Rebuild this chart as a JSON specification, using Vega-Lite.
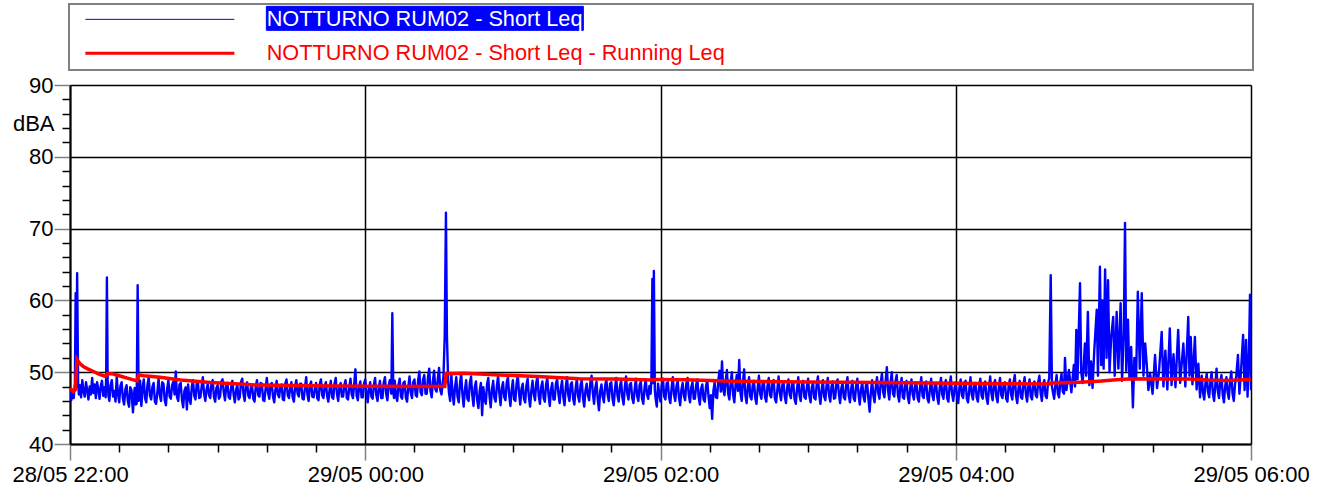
{
  "$schema": "https://vega.github.io/schema/vega-lite/v6.json",
  "width": 1181,
  "height": 359,
  "autosize": {"type": "none"},
  "padding": {"left": 70, "top": 85, "right": 73, "bottom": 46},
  "background": "white",
  "config": {
    "font": "Liberation Sans",
    "view": {"stroke": null}
  },
  "datasets": {
    "short": [
      {"t":0,"v":47.8},{"t":0.5,"v":46.1},{"t":1,"v":47.0},{"t":1.5,"v":46.4},{"t":2,"v":48.5},{"t":2.3,"v":61.0},{"t":2.6,"v":48.0},{"t":2.9,"v":63.8},{"t":3.3,"v":48.5},{"t":3.6,"v":46.9},{"t":4,"v":48.2},{"t":4.5,"v":46.5},{"t":5,"v":48.9},{"t":5.5,"v":47.3},{"t":6,"v":46.6},{"t":6.5,"v":48.6},{"t":7,"v":47.5},{"t":7.5,"v":46.2},{"t":8,"v":48.0},{"t":8.5,"v":46.9},{"t":9,"v":49.2},{"t":9.5,"v":47.1},{"t":10,"v":48.3},{"t":10.5,"v":46.4},{"t":11,"v":48.6},{"t":11.5,"v":47.6},{"t":12,"v":46.3},{"t":12.5,"v":48.1},{"t":13,"v":48.8},{"t":13.5,"v":46.7},{"t":14,"v":47.9},{"t":14.5,"v":46.5},{"t":14.7,"v":49.5},{"t":15,"v":63.2},{"t":15.3,"v":49.0},{"t":15.6,"v":46.8},
      {"t":16,"v":46.0},{"t":16.5,"v":48.2},{"t":17,"v":48.9},{"t":17.5,"v":46.6},{"t":18,"v":47.4},{"t":18.5,"v":45.9},{"t":19,"v":49.4},{"t":19.5,"v":47.0},{"t":20,"v":45.8},{"t":20.5,"v":48.1},{"t":21,"v":48.6},{"t":21.5,"v":46.3},{"t":22,"v":45.5},{"t":22.5,"v":47.6},{"t":23,"v":48.2},{"t":23.5,"v":46.0},{"t":24,"v":45.2},{"t":24.5,"v":47.9},{"t":25,"v":47.5},{"t":25.3,"v":45.8},{"t":25.6,"v":44.4},{"t":26,"v":46.9},{"t":26.3,"v":47.8},{"t":26.7,"v":45.5},{"t":27.1,"v":45.6},{"t":27.5,"v":62.1},{"t":27.9,"v":46.0},
      {"t":28.2,"v":47.4},{"t":28.5,"v":48.8},{"t":29,"v":45.3},{"t":29.5,"v":47.8},{"t":30,"v":49.0},{"t":30.5,"v":46.4},{"t":31,"v":45.8},{"t":31.5,"v":48.3},{"t":32,"v":49.3},{"t":32.5,"v":46.7},{"t":33,"v":46.2},{"t":33.5,"v":48.0},{"t":34,"v":48.5},{"t":34.5,"v":45.9},{"t":35,"v":45.6},{"t":35.5,"v":47.2},{"t":36,"v":49.1},{"t":36.5,"v":46.8},{"t":37,"v":46.0},{"t":37.5,"v":48.6},{"t":38,"v":48.4},{"t":38.5,"v":46.1},{"t":39,"v":45.4},{"t":39.5,"v":47.7},{"t":40,"v":48.9},{"t":40.5,"v":46.6},{"t":41,"v":46.3},{"t":41.5,"v":48.2},{"t":42,"v":48.7},{"t":42.5,"v":46.9},{"t":43,"v":50.1},{"t":43.5,"v":46.5},{"t":44,"v":46.0},{"t":44.5,"v":48.3},{"t":45,"v":48.5},{"t":45.5,"v":46.2},{"t":46,"v":45.1},{"t":46.5,"v":47.4},{"t":47,"v":47.9},{"t":47.5,"v":44.8},{"t":48,"v":48.3},{"t":48.5,"v":46.3},{"t":49,"v":45.6},{"t":49.5,"v":48.0},{"t":50,"v":48.9},
      {"t":50.5,"v":46.7},{"t":51,"v":46.2},{"t":51.5,"v":48.4},{"t":52,"v":48.6},{"t":52.5,"v":46.4},{"t":53,"v":46.5},{"t":53.5,"v":48.0},{"t":54,"v":49.3},{"t":54.5,"v":47.0},{"t":55,"v":46.0},{"t":55.5,"v":47.6},{"t":56,"v":48.4},{"t":56.5,"v":46.8},{"t":57,"v":46.4},{"t":57.5,"v":48.5},{"t":58,"v":48.9},{"t":58.5,"v":46.6},{"t":59,"v":45.9},{"t":59.5,"v":47.8},{"t":60,"v":48.2},{"t":60.5,"v":46.3},{"t":61,"v":46.6},{"t":61.5,"v":48.7},{"t":62,"v":49.0},{"t":62.5,"v":47.2},{"t":63,"v":46.1},{"t":63.5,"v":48.1},{"t":64,"v":48.5},{"t":64.5,"v":46.5},{"t":65,"v":46.3},{"t":65.5,"v":47.9},{"t":66,"v":48.8},{"t":66.5,"v":46.9},{"t":67,"v":45.8},{"t":67.5,"v":47.5},{"t":68,"v":48.3},{"t":68.5,"v":46.2},{"t":69,"v":46.5},{"t":69.5,"v":48.6},{"t":70,"v":49.1},{"t":70.5,"v":47.0},{"t":71,"v":46.0},{"t":71.5,"v":48.2},{"t":72,"v":48.6},{"t":72.5,"v":46.7},{"t":73,"v":46.4},{"t":73.5,"v":47.9},{"t":74,"v":48.2},{"t":74.5,"v":46.3},{"t":75,"v":45.9},
      {"t":75.5,"v":48.0},{"t":76,"v":48.9},{"t":76.5,"v":46.8},{"t":77,"v":46.6},{"t":77.5,"v":48.5},{"t":78,"v":48.4},{"t":78.5,"v":46.1},{"t":79,"v":46.0},{"t":79.5,"v":47.7},{"t":80,"v":49.2},{"t":80.5,"v":47.1},{"t":81,"v":46.3},{"t":81.5,"v":48.3},{"t":82,"v":48.5},{"t":82.5,"v":46.6},{"t":83,"v":45.8},{"t":83.5,"v":47.6},{"t":84,"v":48.8},{"t":84.5,"v":46.9},{"t":85,"v":46.5},{"t":85.5,"v":48.1},{"t":86,"v":48.3},{"t":86.5,"v":46.2},{"t":87,"v":46.1},{"t":87.5,"v":48.4},{"t":88,"v":49.0},{"t":88.5,"v":46.8},{"t":89,"v":46.4},{"t":89.5,"v":47.8},{"t":90,"v":48.6},{"t":90.5,"v":46.5},{"t":91,"v":45.9},{"t":91.5,"v":48.0},{"t":92,"v":48.9},{"t":92.5,"v":47.0},{"t":93,"v":46.6},{"t":93.5,"v":48.4},{"t":94,"v":48.4},{"t":94.5,"v":46.3},{"t":95,"v":46.2},{"t":95.5,"v":47.9},{"t":96,"v":49.3},{"t":96.5,"v":46.9},{"t":97,"v":46.0},{"t":97.5,"v":48.2},{"t":98,"v":48.7},{"t":98.5,"v":46.6},{"t":99,"v":46.5},{"t":99.5,"v":47.7},{"t":100,"v":48.5},
      {"t":100.5,"v":46.4},{"t":101,"v":46.1},{"t":101.5,"v":48.3},{"t":102,"v":49.0},{"t":102.5,"v":46.8},{"t":103,"v":46.4},{"t":103.5,"v":48.0},{"t":104,"v":48.6},{"t":104.5,"v":46.7},{"t":105,"v":45.9},{"t":105.5,"v":47.6},{"t":106,"v":48.8},{"t":106.5,"v":46.5},{"t":107,"v":46.3},{"t":107.5,"v":48.4},{"t":108,"v":49.2},{"t":108.5,"v":47.0},{"t":109,"v":46.0},{"t":109.5,"v":47.9},{"t":110,"v":48.5},{"t":110.5,"v":46.6},{"t":111,"v":46.6},{"t":111.5,"v":48.2},{"t":112,"v":48.9},{"t":112.5,"v":46.4},{"t":113,"v":46.2},{"t":113.5,"v":47.8},{"t":114,"v":49.1},{"t":114.5,"v":46.9},{"t":115,"v":46.4},{"t":115.5,"v":48.3},{"t":116,"v":50.4},{"t":116.5,"v":46.7},{"t":117,"v":46.1},{"t":117.5,"v":48.0},{"t":118,"v":48.7},{"t":118.5,"v":46.5},{"t":119,"v":46.5},{"t":119.5,"v":48.4},{"t":120,"v":49.0},{"t":120.5,"v":47.1},{"t":121,"v":45.8},{"t":121.5,"v":47.6},{"t":122,"v":48.6},{"t":122.5,"v":46.6},{"t":123,"v":46.3},{"t":123.5,"v":48.2},{"t":124,"v":49.2},{"t":124.5,"v":46.8},{"t":125,"v":46.0},{"t":125.5,"v":47.9},{"t":126,"v":48.8},{"t":126.5,"v":46.4},{"t":127,"v":46.4},{"t":127.5,"v":48.5},{"t":128,"v":49.3},{"t":128.5,"v":47.0},{"t":129,"v":46.1},{"t":129.5,"v":48.1},{"t":130,"v":48.9},{"t":130.6,"v":47.0},{"t":131,"v":58.2},{"t":131.4,"v":47.2},{"t":131.7,"v":46.4},
      {"t":132,"v":48.8},{"t":132.5,"v":46.7},{"t":133,"v":46.0},{"t":133.5,"v":48.2},{"t":134,"v":49.1},{"t":134.5,"v":46.6},{"t":135,"v":46.3},{"t":135.5,"v":48.5},{"t":136,"v":48.7},{"t":136.5,"v":46.5},{"t":137,"v":45.9},{"t":137.5,"v":48.0},{"t":138,"v":49.4},{"t":138.5,"v":47.1},{"t":139,"v":46.4},{"t":139.5,"v":48.6},{"t":140,"v":49.0},{"t":140.5,"v":46.8},{"t":141,"v":46.6},{"t":141.5,"v":48.9},{"t":142,"v":50.1},{"t":142.5,"v":47.2},{"t":143,"v":46.8},{"t":143.5,"v":49.0},{"t":144,"v":49.6},{"t":144.5,"v":47.0},{"t":145,"v":47.0},{"t":145.5,"v":49.3},{"t":146,"v":50.5},{"t":146.5,"v":47.4},{"t":147,"v":46.5},{"t":147.5,"v":48.8},{"t":148,"v":50.2},{"t":148.5,"v":47.6},{"t":149,"v":47.3},{"t":149.5,"v":49.1},{"t":150,"v":50.6},{"t":150.5,"v":47.5},{"t":151,"v":46.9},{"t":151.5,"v":48.6},{"t":151.8,"v":49.5},{"t":152.3,"v":55.0},{"t":152.8,"v":72.2},{"t":153.2,"v":55.0},{"t":153.7,"v":48.8},
      {"t":154,"v":47.2},{"t":154.5,"v":46.0},{"t":155,"v":49.6},{"t":155.5,"v":47.1},{"t":156,"v":45.5},{"t":156.5,"v":48.0},{"t":157,"v":49.3},{"t":157.5,"v":46.6},{"t":158,"v":45.8},{"t":158.5,"v":48.4},{"t":159,"v":49.8},{"t":159.5,"v":46.9},{"t":160,"v":45.2},{"t":160.5,"v":47.5},{"t":161,"v":48.9},{"t":161.5,"v":46.3},{"t":162,"v":46.0},{"t":162.5,"v":48.5},{"t":163,"v":49.4},{"t":163.5,"v":46.8},{"t":164,"v":45.3},{"t":164.5,"v":47.9},{"t":165,"v":48.7},{"t":165.5,"v":46.1},{"t":166,"v":45.0},{"t":166.5,"v":47.4},{"t":167,"v":48.5},{"t":167.5,"v":44.0},{"t":168,"v":47.9},{"t":168.5,"v":46.2},{"t":169,"v":45.6},{"t":169.5,"v":48.3},{"t":170,"v":49.2},{"t":170.5,"v":46.7},{"t":171,"v":45.1},{"t":171.5,"v":47.6},{"t":172,"v":48.8},{"t":172.5,"v":46.4},{"t":173,"v":45.9},{"t":173.5,"v":48.1},{"t":174,"v":49.5},{"t":174.5,"v":47.0},{"t":175,"v":45.4},{"t":175.5,"v":47.8},{"t":176,"v":48.6},{"t":176.5,"v":46.5},{"t":177,"v":46.1},{"t":177.5,"v":48.6},
      {"t":178,"v":49.3},{"t":178.5,"v":46.8},{"t":179,"v":45.3},{"t":179.5,"v":47.5},{"t":180,"v":48.9},{"t":180.5,"v":46.2},{"t":181,"v":46.0},{"t":181.5,"v":48.4},{"t":182,"v":49.6},{"t":182.5,"v":47.1},{"t":183,"v":45.5},{"t":183.5,"v":47.7},{"t":184,"v":48.4},{"t":184.5,"v":46.3},{"t":185,"v":45.8},{"t":185.5,"v":48.2},{"t":186,"v":49.1},{"t":186.5,"v":46.6},{"t":187,"v":45.2},{"t":187.5,"v":47.4},{"t":188,"v":48.8},{"t":188.5,"v":46.9},{"t":189,"v":46.1},{"t":189.5,"v":48.5},{"t":190,"v":49.4},{"t":190.5,"v":46.7},{"t":191,"v":45.6},{"t":191.5,"v":47.9},{"t":192,"v":48.7},{"t":192.5,"v":46.4},{"t":193,"v":45.9},{"t":193.5,"v":48.3},{"t":194,"v":49.2},{"t":194.5,"v":46.8},{"t":195,"v":45.3},{"t":195.5,"v":47.6},{"t":196,"v":48.5},{"t":196.5,"v":46.2},{"t":197,"v":46.2},{"t":197.5,"v":48.4},{"t":198,"v":49.0},{"t":198.5,"v":47.0},{"t":199,"v":45.7},{"t":199.5,"v":47.8},{"t":200,"v":48.8},
      {"t":200.5,"v":46.5},{"t":201,"v":45.4},{"t":201.5,"v":47.9},{"t":202,"v":49.3},{"t":202.5,"v":46.9},{"t":203,"v":46.0},{"t":203.5,"v":48.3},{"t":204,"v":48.6},{"t":204.5,"v":46.3},{"t":205,"v":45.5},{"t":205.5,"v":47.7},{"t":206,"v":49.1},{"t":206.5,"v":46.7},{"t":207,"v":45.9},{"t":207.5,"v":48.2},{"t":208,"v":48.9},{"t":208.5,"v":46.4},{"t":209,"v":45.2},{"t":209.5,"v":47.5},{"t":210,"v":48.4},{"t":210.5,"v":46.8},{"t":211,"v":46.1},{"t":211.5,"v":48.6},{"t":212,"v":49.5},{"t":212.5,"v":47.1},{"t":213,"v":45.6},{"t":213.5,"v":47.8},{"t":214,"v":48.7},{"t":214.5,"v":46.2},{"t":215,"v":44.7},{"t":215.5,"v":47.4},{"t":216,"v":48.3},{"t":216.5,"v":46.6},{"t":217,"v":45.8},{"t":217.5,"v":48.1},{"t":218,"v":49.0},{"t":218.5,"v":46.9},{"t":219,"v":46.0},{"t":219.5,"v":48.4},{"t":220,"v":48.6},{"t":220.5,"v":46.3},{"t":221,"v":45.4},{"t":221.5,"v":47.7},{"t":222,"v":49.2},{"t":222.5,"v":46.8},{"t":223,"v":45.9},{"t":223.5,"v":48.0},{"t":224,"v":48.8},{"t":224.5,"v":46.5},{"t":225,"v":45.5},{"t":225.5,"v":47.9},{"t":226,"v":49.4},{"t":226.5,"v":47.0},{"t":227,"v":46.2},{"t":227.5,"v":48.3},{"t":228,"v":48.5},{"t":228.5,"v":46.4},{"t":229,"v":45.7},{"t":229.5,"v":47.6},{"t":230,"v":49.1},{"t":230.5,"v":46.7},{"t":231,"v":46.0},{"t":231.5,"v":48.2},{"t":232,"v":48.7},{"t":232.5,"v":46.3},{"t":233,"v":45.6},{"t":233.5,"v":47.8},{"t":234,"v":49.0},{"t":234.5,"v":46.9},{"t":235,"v":46.3},{"t":235.5,"v":48.1},{"t":236,"v":47.0},{"t":236.3,"v":49.2},{"t":236.7,"v":63.0},{"t":237,"v":48.5},{"t":237.3,"v":64.1},{"t":237.7,"v":47.5},
      {"t":238,"v":46.4},{"t":238.5,"v":45.2},{"t":239,"v":48.4},{"t":239.5,"v":47.0},{"t":240,"v":45.9},{"t":240.5,"v":48.2},{"t":241,"v":49.1},{"t":241.5,"v":46.6},{"t":242,"v":46.2},{"t":242.5,"v":48.5},{"t":243,"v":48.6},{"t":243.5,"v":46.4},{"t":244,"v":45.7},{"t":244.5,"v":47.8},{"t":245,"v":49.3},{"t":245.5,"v":46.9},{"t":246,"v":46.0},{"t":246.5,"v":48.1},{"t":247,"v":48.8},{"t":247.5,"v":46.5},{"t":248,"v":45.4},{"t":248.5,"v":47.6},{"t":249,"v":48.5},{"t":249.5,"v":46.7},{"t":250,"v":46.1},{"t":250.5,"v":48.4},{"t":251,"v":49.2},{"t":251.5,"v":46.8},{"t":252,"v":45.8},{"t":252.5,"v":47.9},{"t":253,"v":48.6},{"t":253.5,"v":46.3},{"t":254,"v":46.3},{"t":254.5,"v":48.2},{"t":255,"v":49.0},{"t":255.5,"v":46.6},{"t":256,"v":45.5},{"t":256.5,"v":47.7},{"t":257,"v":48.3},{"t":257.5,"v":46.2},{"t":258,"v":45.9},{"t":258.5,"v":48.0},{"t":259,"v":48.9},{"t":259.5,"v":46.7},{"t":260,"v":45.0},{"t":260.5,"v":46.8},{"t":261,"v":43.5},{"t":261.5,"v":47.4},{"t":262,"v":48.6},{"t":262.5,"v":46.5},{"t":263,"v":46.4},{"t":263.5,"v":48.9},{"t":264,"v":50.2},{"t":264.5,"v":47.3},{"t":265,"v":51.5},{"t":265.5,"v":47.6},{"t":266,"v":46.8},{"t":266.5,"v":48.8},{"t":267,"v":50.3},{"t":267.5,"v":47.0},{"t":268,"v":46.2},{"t":268.5,"v":48.5},{"t":269,"v":50.0},{"t":269.5,"v":46.9},{"t":270,"v":45.8},{"t":270.5,"v":48.2},{"t":271,"v":49.6},{"t":271.5,"v":47.4},{"t":272,"v":51.7},{"t":272.5,"v":47.1},{"t":273,"v":46.0},{"t":273.5,"v":48.6},{"t":274,"v":50.4},{"t":274.5,"v":46.8},{"t":275,"v":45.7},{"t":275.5,"v":47.9},
      {"t":276,"v":49.3},{"t":276.5,"v":46.6},{"t":277,"v":46.2},{"t":277.5,"v":48.3},{"t":278,"v":48.8},{"t":278.5,"v":46.4},{"t":279,"v":45.6},{"t":279.5,"v":47.8},{"t":280,"v":49.5},{"t":280.5,"v":47.0},{"t":281,"v":46.3},{"t":281.5,"v":48.4},{"t":282,"v":48.7},{"t":282.5,"v":46.5},{"t":283,"v":45.9},{"t":283.5,"v":48.1},{"t":284,"v":49.2},{"t":284.5,"v":46.8},{"t":285,"v":46.5},{"t":285.5,"v":48.6},{"t":286,"v":48.9},{"t":286.5,"v":46.3},{"t":287,"v":45.8},{"t":287.5,"v":47.6},{"t":288,"v":49.4},{"t":288.5,"v":47.1},{"t":289,"v":46.1},{"t":289.5,"v":48.2},{"t":290,"v":48.6},{"t":290.5,"v":46.6},{"t":291,"v":45.7},{"t":291.5,"v":47.9},{"t":292,"v":49.0},{"t":292.5,"v":46.9},{"t":293,"v":46.4},{"t":293.5,"v":48.5},{"t":294,"v":48.5},{"t":294.5,"v":46.2},{"t":295,"v":45.6},{"t":295.5,"v":47.7},{"t":296,"v":49.3},{"t":296.5,"v":46.8},{"t":297,"v":46.0},{"t":297.5,"v":48.3},{"t":298,"v":48.8},{"t":298.5,"v":46.5},{"t":299,"v":46.3},{"t":299.5,"v":48.0},{"t":300,"v":49.1},
      {"t":300.5,"v":46.7},{"t":301,"v":45.8},{"t":301.5,"v":47.9},{"t":302,"v":48.6},{"t":302.5,"v":46.4},{"t":303,"v":46.2},{"t":303.5,"v":48.4},{"t":304,"v":49.4},{"t":304.5,"v":46.9},{"t":305,"v":45.6},{"t":305.5,"v":47.6},{"t":306,"v":48.9},{"t":306.5,"v":46.6},{"t":307,"v":46.1},{"t":307.5,"v":48.2},{"t":308,"v":49.2},{"t":308.5,"v":46.8},{"t":309,"v":45.9},{"t":309.5,"v":48.0},{"t":310,"v":48.7},{"t":310.5,"v":46.3},{"t":311,"v":46.4},{"t":311.5,"v":48.5},{"t":312,"v":49.0},{"t":312.5,"v":47.0},{"t":313,"v":45.7},{"t":313.5,"v":47.8},{"t":314,"v":48.5},{"t":314.5,"v":46.5},{"t":315,"v":46.2},{"t":315.5,"v":48.3},{"t":316,"v":49.3},{"t":316.5,"v":46.7},{"t":317,"v":45.8},{"t":317.5,"v":47.7},{"t":318,"v":48.8},{"t":318.5,"v":46.4},{"t":319,"v":46.0},{"t":319.5,"v":48.1},{"t":320,"v":49.1},{"t":320.5,"v":46.9},{"t":321,"v":45.5},{"t":321.5,"v":47.6},{"t":322,"v":48.6},{"t":322.5,"v":46.6},{"t":323,"v":45.9},{"t":323.5,"v":48.2},{"t":324,"v":48.4},{"t":324.5,"v":46.3},{"t":325,"v":44.5},{"t":325.5,"v":47.2},{"t":326,"v":48.9},{"t":326.5,"v":46.8},{"t":327,"v":45.8},{"t":327.5,"v":48.0},{"t":328,"v":49.3},{"t":328.5,"v":47.1},{"t":329,"v":46.3},{"t":329.5,"v":48.6},{"t":330,"v":49.8},{"t":330.5,"v":47.2},{"t":331,"v":46.5},{"t":331.5,"v":48.8},{"t":332,"v":50.7},{"t":332.5,"v":47.4},{"t":333,"v":46.2},{"t":333.5,"v":48.5},{"t":334,"v":50.0},{"t":334.5,"v":47.0},{"t":335,"v":46.6},{"t":335.5,"v":48.7},{"t":336,"v":49.6},{"t":336.5,"v":46.8},{"t":337,"v":45.9},{"t":337.5,"v":48.1},
      {"t":338,"v":49.2},{"t":338.5,"v":46.5},{"t":339,"v":46.3},{"t":339.5,"v":48.4},{"t":340,"v":48.8},{"t":340.5,"v":46.6},{"t":341,"v":45.7},{"t":341.5,"v":47.8},{"t":342,"v":49.0},{"t":342.5,"v":46.9},{"t":343,"v":46.2},{"t":343.5,"v":48.2},{"t":344,"v":48.6},{"t":344.5,"v":46.4},{"t":345,"v":45.9},{"t":345.5,"v":48.0},{"t":346,"v":49.3},{"t":346.5,"v":46.7},{"t":347,"v":46.4},{"t":347.5,"v":48.5},{"t":348,"v":48.7},{"t":348.5,"v":46.3},{"t":349,"v":45.8},{"t":349.5,"v":47.7},{"t":350,"v":49.1},{"t":350.5,"v":46.8},{"t":351,"v":46.1},{"t":351.5,"v":48.3},{"t":352,"v":48.5},{"t":352.5,"v":46.5},{"t":353,"v":45.6},{"t":353.5,"v":47.9},{"t":354,"v":49.2},{"t":354.5,"v":46.9},{"t":355,"v":46.3},{"t":355.5,"v":48.4},{"t":356,"v":48.9},{"t":356.5,"v":46.4},{"t":357,"v":45.9},{"t":357.5,"v":48.1},{"t":358,"v":49.4},{"t":358.5,"v":47.0},{"t":359,"v":46.0},{"t":359.5,"v":47.8},{"t":360,"v":48.6},{"t":360.5,"v":46.6},{"t":361,"v":45.7},{"t":361.5,"v":47.9},{"t":362,"v":49.0},{"t":362.5,"v":46.8},{"t":363,"v":46.4},{"t":363.5,"v":48.5},{"t":364,"v":48.8},{"t":364.5,"v":46.3},{"t":365,"v":45.8},{"t":365.5,"v":47.6},{"t":366,"v":49.3},{"t":366.5,"v":46.9},{"t":367,"v":46.2},{"t":367.5,"v":48.2},{"t":368,"v":48.5},{"t":368.5,"v":46.5},{"t":369,"v":45.9},{"t":369.5,"v":48.0},
      {"t":370,"v":49.1},{"t":370.5,"v":46.7},{"t":371,"v":46.3},{"t":371.5,"v":48.4},{"t":372,"v":48.7},{"t":372.5,"v":46.4},{"t":373,"v":45.6},{"t":373.5,"v":47.8},{"t":374,"v":49.4},{"t":374.5,"v":47.0},{"t":375,"v":46.1},{"t":375.5,"v":48.3},{"t":376,"v":48.9},{"t":376.5,"v":46.6},{"t":377,"v":45.8},{"t":377.5,"v":47.9},{"t":378,"v":49.2},{"t":378.5,"v":46.8},{"t":379,"v":46.4},{"t":379.5,"v":48.5},{"t":380,"v":48.6},{"t":380.5,"v":46.3},{"t":381,"v":45.9},{"t":381.5,"v":48.1},{"t":382,"v":49.0},{"t":382.5,"v":46.9},{"t":383,"v":46.2},{"t":383.5,"v":48.6},{"t":384,"v":49.6},{"t":384.5,"v":46.7},{"t":385,"v":45.7},{"t":385.5,"v":47.8},{"t":386,"v":48.8},{"t":386.5,"v":46.5},{"t":387,"v":46.3},{"t":387.5,"v":48.3},{"t":388,"v":49.3},{"t":388.5,"v":47.0},{"t":389,"v":45.9},{"t":389.5,"v":48.0},{"t":390,"v":49.0},{"t":390.5,"v":46.6},{"t":391,"v":46.2},{"t":391.5,"v":48.4},{"t":392,"v":48.7},{"t":392.5,"v":46.8},{"t":393,"v":46.5},{"t":393.5,"v":48.6},{"t":394,"v":49.5},{"t":394.5,"v":47.1},{"t":395,"v":46.0},{"t":395.5,"v":48.2},{"t":396,"v":48.9},{"t":396.5,"v":46.7},{"t":397,"v":46.4},{"t":397.5,"v":48.5},{"t":398,"v":49.2},{"t":398.6,"v":63.5},{"t":399.1,"v":48.0},{"t":399.5,"v":47.2},{"t":400,"v":46.3},{"t":400.5,"v":48.3},{"t":401,"v":49.6},{"t":401.5,"v":47.0},{"t":402,"v":46.5},{"t":402.5,"v":48.6},{"t":403,"v":49.8},{"t":403.5,"v":47.3},
      {"t":404,"v":47.0},{"t":404.4,"v":52.0},{"t":405,"v":47.5},{"t":406,"v":50.3},{"t":407,"v":47.2},{"t":408,"v":51.0},{"t":408.5,"v":48.0},{"t":409,"v":55.9},{"t":409.5,"v":49.0},{"t":410.5,"v":62.4},{"t":411,"v":50.0},{"t":411.6,"v":48.5},{"t":412.5,"v":54.0},{"t":413,"v":49.5},{"t":413.7,"v":58.4},{"t":414.3,"v":48.2},{"t":415,"v":51.5},{"t":415.6,"v":47.8},{"t":416.3,"v":53.0},{"t":417.3,"v":58.7},{"t":417.8,"v":49.5},{"t":418.6,"v":64.7},{"t":419.1,"v":51.0},{"t":419.6,"v":60.0},{"t":420.1,"v":50.5},{"t":420.7,"v":64.3},{"t":421.3,"v":52.0},{"t":421.9,"v":62.8},{"t":422.5,"v":50.0},{"t":423.2,"v":55.0},{"t":424,"v":57.7},{"t":424.6,"v":49.5},{"t":425.4,"v":58.4},{"t":426.1,"v":50.5},{"t":427,"v":59.6},{"t":427.6,"v":48.8},{"t":428.3,"v":55.5},{"t":428.8,"v":70.8},{"t":429.3,"v":50.2},{"t":430,"v":57.3},{"t":430.6,"v":49.0},{"t":431.3,"v":53.5},{"t":432,"v":45.1},{"t":432.6,"v":52.0},{"t":433.3,"v":49.0},{"t":434,"v":61.2},{"t":434.8,"v":50.5},{"t":435.6,"v":61.0},{"t":436.3,"v":49.5},{"t":437,"v":54.0},{"t":437.6,"v":51.2},{"t":438.3,"v":47.5},{"t":439,"v":49.8},{"t":440,"v":47.0},
      {"t":441,"v":52.4},{"t":441.8,"v":47.8},{"t":442.6,"v":50.0},{"t":443.7,"v":55.6},{"t":444.4,"v":48.0},{"t":445.2,"v":53.0},{"t":446,"v":47.6},{"t":447,"v":56.1},{"t":447.7,"v":48.2},{"t":448.5,"v":52.5},{"t":449.3,"v":47.9},{"t":450.4,"v":55.9},{"t":451.2,"v":48.5},{"t":452.5,"v":54.0},{"t":453.3,"v":48.0},{"t":454.5,"v":57.7},{"t":455,"v":49.5},{"t":455.5,"v":54.9},{"t":456.2,"v":48.3},{"t":457.2,"v":54.9},{"t":457.9,"v":47.6},{"t":458.6,"v":51.2},{"t":459.3,"v":46.5},{"t":459.6,"v":48.4},{"t":460,"v":49.5},{"t":460.5,"v":47.1},{"t":461,"v":46.2},{"t":461.5,"v":48.5},{"t":462,"v":49.8},{"t":462.5,"v":47.3},{"t":463,"v":46.5},{"t":463.5,"v":48.7},{"t":464,"v":50.0},{"t":464.5,"v":47.0},{"t":465,"v":46.0},{"t":465.5,"v":48.2},{"t":466,"v":50.5},{"t":466.5,"v":47.4},{"t":467,"v":46.4},{"t":467.5,"v":48.6},{"t":468,"v":49.6},{"t":468.5,"v":46.9},{"t":469,"v":45.8},{"t":469.5,"v":48.0},{"t":470,"v":49.3},{"t":470.5,"v":47.2},{"t":471,"v":46.3},{"t":471.5,"v":48.8},{"t":472,"v":50.1},{"t":472.5,"v":47.0},{"t":473,"v":46.0},{"t":473.5,"v":48.3},{"t":474,"v":49.4},{"t":474.7,"v":52.4},{"t":475.3,"v":47.0},{"t":476,"v":50.5},{"t":476.8,"v":55.2},{"t":477.4,"v":47.5},{"t":478,"v":54.5},{"t":478.6,"v":46.6},{"t":479.2,"v":53.0},{"t":479.6,"v":60.8},{"t":480,"v":47.5}
    ],
    "running": [
      {"t":0,"v":47.8},{"t":1.3,"v":47.3},{"t":2.2,"v":47.6},{"t":2.8,"v":51.8},{"t":4,"v":51.2},{"t":5.4,"v":50.8},{"t":7,"v":50.5},{"t":9.5,"v":50.1},{"t":12,"v":49.7},{"t":14.4,"v":49.4},{"t":15.2,"v":49.8},{"t":17,"v":49.8},{"t":20,"v":49.5},{"t":24,"v":49.1},{"t":27.2,"v":48.8},{"t":27.8,"v":49.6},{"t":30,"v":49.5},{"t":36.6,"v":49.3},{"t":45,"v":48.9},{"t":57,"v":48.55},{"t":67,"v":48.4},{"t":77,"v":48.2},{"t":97,"v":48.1},{"t":120,"v":48.05},{"t":152.3,"v":48.0},{"t":152.9,"v":49.8},{"t":160,"v":49.85},{"t":175,"v":49.6},{"t":190,"v":49.4},{"t":207,"v":49.1},{"t":222,"v":49.05},{"t":236.6,"v":48.9},{"t":237.4,"v":49.0},{"t":250,"v":48.95},{"t":270,"v":48.75},{"t":300,"v":48.65},{"t":330,"v":48.55},{"t":360,"v":48.45},{"t":380,"v":48.4},{"t":398.4,"v":48.35},{"t":398.8,"v":48.5},{"t":410,"v":48.6},{"t":418,"v":48.75},{"t":424,"v":48.9},{"t":430,"v":49.05},{"t":440,"v":49.1},{"t":455,"v":49.05},{"t":462,"v":48.9},{"t":470,"v":48.85},{"t":480,"v":49.0}
    ]
  },
  "encoding": {
    "x": {
      "field": "t",
      "type": "quantitative",
      "scale": {"domain": [0, 480], "nice": false, "zero": false},
      "axis": {
        "title": null,
        "values": [0,20,40,60,80,100,120,140,160,180,200,220,240,260,280,300,320,340,360,380,400,420,440,460,480],
        "labelExpr": "datum.value % 120 !== 0 ? '' : (datum.value === 0 ? '28/05 22:00' : '29/05 0' + (datum.value / 60 - 2) + ':00')",
        "labelFont": "Liberation Sans",
        "labelFontSize": 22,
        "labelColor": "#000000",
        "labelPadding": 4,
        "labelFlush": false,
        "labelOverlap": false,
        "labelBound": false,
        "tickSize": {"condition": {"test": "datum.value % 120 === 0", "value": 16}, "value": 8},
        "tickColor": {"condition": {"test": "datum.value % 120 === 0", "value": "#808080"}, "value": "#000000"},
        "tickWidth": 1.5,
        "domainColor": "#000000",
        "domainWidth": 2,
        "grid": true,
        "gridColor": "#000000",
        "gridWidth": 1.5,
        "gridOpacity": {"condition": {"test": "datum.value % 120 === 0", "value": 1}, "value": 0}
      }
    },
    "y": {
      "field": "v",
      "type": "quantitative",
      "scale": {"domain": [40, 90], "nice": false, "zero": false},
      "axis": {
        "title": "dBA",
        "titleAngle": 0,
        "titleX": -16,
        "titleY": 38,
        "titleAlign": "right",
        "titleBaseline": "middle",
        "titleFont": "Liberation Sans",
        "titleFontSize": 22,
        "titleFontWeight": "normal",
        "titleColor": "#000000",
        "values": [40,42,44,46,48,50,52,54,56,58,60,62,64,66,68,70,72,74,76,78,80,82,84,86,88,90],
        "labelExpr": "datum.value % 10 === 0 ? datum.label : ''",
        "labelFont": "Liberation Sans",
        "labelFontSize": 22,
        "labelColor": "#000000",
        "labelPadding": 1,
        "labelFlush": false,
        "labelOverlap": false,
        "labelBound": false,
        "tickSize": {"condition": {"test": "datum.value % 10 === 0", "value": 16}, "value": 8},
        "tickColor": {"condition": {"test": "datum.value % 10 === 0", "value": "#808080"}, "value": "#000000"},
        "tickWidth": 1.5,
        "domainColor": "#000000",
        "domainWidth": 2,
        "grid": true,
        "gridColor": "#000000",
        "gridWidth": 1.5,
        "gridOpacity": {"condition": {"test": "datum.value % 10 === 0", "value": 1}, "value": 0}
      }
    }
  },
  "layer": [
    {
      "data": {"name": "short"},
      "mark": {"type": "line", "strokeWidth": 2.4, "strokeJoin": "round", "clip": true},
      "encoding": {
        "color": {
          "datum": "NOTTURNO RUM02 - Short Leq",
          "type": "nominal",
          "scale": {
            "domain": ["NOTTURNO RUM02 - Short Leq", "NOTTURNO RUM02 - Short Leq - Running Leq"],
            "range": ["#0000ff", "#ff0000"]
          },
          "legend": {
            "title": null,
            "orient": "none",
            "legendX": -1,
            "legendY": -81,
            "direction": "vertical",
            "padding": 4.5,
            "rowPadding": 10,
            "fillColor": "#ffffff",
            "strokeColor": "#808080",
            "symbolSize": 400,
            "symbolStrokeWidth": 3,
            "symbolType": "M0.1,0H15",
            "labelFont": "Liberation Sans",
            "labelFontSize": 21.7,
            "labelOffset": 171.5,
            "labelLimit": 0,
            "encode": {
              "legend": {"update": {"strokeWidth": {"value": 2}}},
              "symbols": {"update": {
                "shape": {"signal": "datum.value === 'NOTTURNO RUM02 - Short Leq' ? 'M0.1,0H15M18.2,-1.3H49.9V1.1H18.2Z' : 'M0.1,0H15M115.8,0L115.8,0'"},
                "fill": {"value": "#0000ff"},
                "stroke": {"signal": "datum.value === 'NOTTURNO RUM02 - Short Leq' ? '#0000ff' : '#ff0000'"},
                "strokeWidth": {"signal": "datum.value === 'NOTTURNO RUM02 - Short Leq' ? 1 : 3"}
              }},
              "labels": {"update": {
                "fill": {"signal": "datum.value === 'NOTTURNO RUM02 - Short Leq' ? '#ffffff' : '#ff0000'"}
              }}
            }
          }
        }
      }
    },
    {
      "data": {"name": "running"},
      "mark": {"type": "line", "strokeWidth": 3.5, "clip": true},
      "encoding": {
        "color": {"datum": "NOTTURNO RUM02 - Short Leq - Running Leq", "type": "nominal"}
      }
    }
  ]
}
